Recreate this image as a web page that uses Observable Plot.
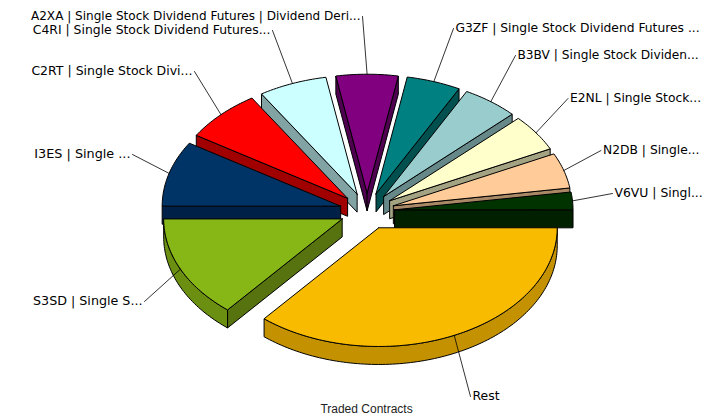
<!DOCTYPE html>
<html>
<head>
<meta charset="utf-8">
<script src="https://cdn.jsdelivr.net/npm/d3@7"></script>
<script src="https://cdn.jsdelivr.net/npm/@observablehq/plot@0.6"></script>
<style>html,body{margin:0;padding:0;background:#fff}svg{display:block}</style>
</head>
<body>
<div id="chart"></div>
<script>
// --- data, clockwise from the east ---
const codes = ["Rest","S3SD","I3ES","C2RT","C4RI","A2XA","G3ZF","B3BV","E2NL","N2DB","V6VU"];
const labels = [
  "Rest",
  "S3SD | Single S...",
  "I3ES | Single ...",
  "C2RT | Single Stock Divi...",
  "C4RI | Single Stock Dividend Futures...",
  "A2XA | Single Stock Dividend Futures | Dividend Deri...",
  "G3ZF | Single Stock Dividend Futures ...",
  "B3BV | Single Stock Dividen...",
  "E2NL | Single Stock...",
  "N2DB | Single...",
  "V6VU | Singl..."
];
const shares = [36.1, 13.9, 8.9, 7.1, 6.2, 5.6, 4.9, 5.1, 5.0, 4.8, 2.4];
const axisTitle = "Traded Contracts";

// --- style ---
const topColors  = ["#F8BB00","#86B717","#003366","#FF0000","#CCFFFF","#800080","#008080","#99CCCC","#FFFFCC","#FFCC99","#003300"];
const rimColors  = ["#C49200","#6B8F10","#002850","#A00000","#82A3A3","#500050","#005050","#668888","#A3A383","#A98866","#002000"];
const cutColors  = ["#C49200","#56730F","#002048","#A00000","#82A3A3","#500050","#005050","#668888","#A3A383","#A98866","#002000"];
const labelSizes = [12.4, 12.7, 12.8, 12.5, 12.4, 12.05, 12.3, 12.2, 12.3, 12.3, 12.4];

// --- layout of the drawing, in chart units ---
const W = 721, H = 419;
const cx = 366.6, cy = 210.7, rx = 178.5, ry = 118.7, depth = 18, pull = 27.5;
const leaderEnds = [[470,396],[144,301],[132,154],[194,71],[272,30],[362,16],[453,28],[515,55],[567.5,98],[600.5,150],[612,193]];

const TAU = 2 * Math.PI;
const total = d3.sum(shares);
const cum = d3.cumsum(shares);
const slices = shares.map((v, i) => {
  const a0 = ((cum[i] - v) / total) * TAU, a1 = (cum[i] / total) * TAU, mid = (a0 + a1) / 2;
  return {i, a0, a1, mid, ox: cx + pull * Math.cos(mid), oy: cy + pull * (ry / rx) * Math.sin(mid)};
});
const rimPoint = (s, a, drop = 0) => [s.ox + rx * Math.cos(a), s.oy + ry * Math.sin(a) + drop];
const arc = (s, from, to, drop = 0) => {
  const n = Math.max(2, Math.ceil(Math.abs(to - from) / 0.02));
  return d3.range(n + 1).map(k => rimPoint(s, from + (to - from) * k / n, drop));
};

// painter's order: furthest slice first
const order = d3.sort(slices, s => Math.sin(s.mid));
const polys = [];
let gid = 0;
const add = (pts, fill) => {
  const id = gid++;
  [...pts, pts[0]].forEach(([x, y]) => polys.push({x, y, id, fill}));
};
for (const s of order) {
  const apex = [s.ox, s.oy], low = [s.ox, s.oy + depth];
  const cutWall = a => add([apex, rimPoint(s, a), rimPoint(s, a, depth), low], cutColors[s.i]);
  if (Math.cos(s.a0) < 0) cutWall(s.a0);
  if (Math.cos(s.a1) > 0) cutWall(s.a1);
  const from = Math.max(s.a0, 0), to = Math.min(s.a1, Math.PI);
  if (to > from) add([...arc(s, from, to), ...arc(s, to, from, depth)], rimColors[s.i]);
  add([apex, ...arc(s, s.a0, s.a1)], topColors[s.i]);
}

const leaders = slices.flatMap(s => [rimPoint(s, s.mid), leaderEnds[s.i]].map(([x, y]) => ({x, y, code: codes[s.i]})));
const labelRows = slices.map(s => {
  const [ex, ey] = leaderEnds[s.i];
  const leftward = ex < rimPoint(s, s.mid)[0];
  return {x: ex + (leftward ? -2 : 2), y: ey - 0.7, text: labels[s.i], size: labelSizes[s.i], anchor: leftward ? "end" : "start"};
});
const font = "DejaVu Sans, Verdana, sans-serif";

const chart = Plot.plot({
  width: W, height: H, margin: 0,
  x: {domain: [0, W], range: [0, W], axis: null},
  y: {domain: [0, H], range: [0, H], axis: null},
  color: {type: "identity"},
  marks: [
    Plot.line(polys, {x: "x", y: "y", z: "id", fill: "fill", stroke: "#000", strokeWidth: 1, strokeLinejoin: "miter"}),
    Plot.line(leaders, {x: "x", y: "y", z: "code", stroke: "#000", strokeWidth: 0.8}),
    Plot.text(labelRows.filter(d => d.anchor === "end"), {x: "x", y: "y", text: "text", textAnchor: "end", fontFamily: font, fontSize: "size", fill: "#000"}),
    Plot.text(labelRows.filter(d => d.anchor === "start"), {x: "x", y: "y", text: "text", textAnchor: "start", fontFamily: font, fontSize: "size", fill: "#000"}),
    Plot.text([axisTitle], {x: () => 366, y: () => 409, text: d => d, fontFamily: "Liberation Sans, Arial, sans-serif", fontSize: 12, fill: "#222"})
  ]
});
document.getElementById("chart").append(chart);
</script>
</body>
</html>
